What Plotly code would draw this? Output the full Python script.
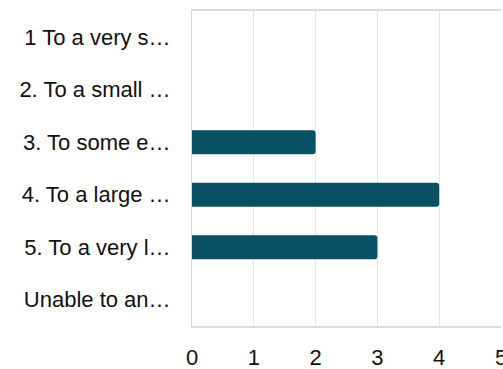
import plotly.graph_objects as go

# Survey responses per answer option
categories = [
    "1 To a very s…",
    "2. To a small …",
    "3. To some e…",
    "4. To a large …",
    "5. To a very l…",
    "Unable to an…",
]
counts = [0, 0, 2, 4, 3, 0]
x_ticks = [0, 1, 2, 3, 4, 5]

fig = go.Figure(
    go.Bar(
        x=counts,
        y=categories,
        orientation="h",
        marker=dict(color="#0a5063", line=dict(width=0)),
        width=0.46,
    )
)

fig.update_layout(
    width=503,
    height=369,
    margin=dict(l=192, r=2, t=11, b=43),
    paper_bgcolor="white",
    plot_bgcolor="white",
    showlegend=False,
    barcornerradius=3,
    font=dict(family="Liberation Sans, Arial, sans-serif", size=22, color="#111111"),
)

fig.update_xaxes(
    range=[0, 5.0],
    tickvals=x_ticks,
    automargin=False,
    ticklabeloverflow="allow",
    showgrid=True,
    gridcolor="#e6e6e6",
    gridwidth=1,
    zeroline=False,
    showline=True,
    mirror=True,
    linecolor="#dcdcdc",
    linewidth=2,
    ticks="",
    ticklabelstandoff=11,
    tickfont=dict(size=22),
)

fig.update_yaxes(
    autorange="reversed",
    automargin=False,
    showgrid=False,
    zeroline=False,
    showline=True,
    linecolor="#d6d6d6",
    linewidth=1,
    ticks="",
    ticklabelstandoff=16,
    tickfont=dict(size=22),
)

fig.write_html("out.html")
